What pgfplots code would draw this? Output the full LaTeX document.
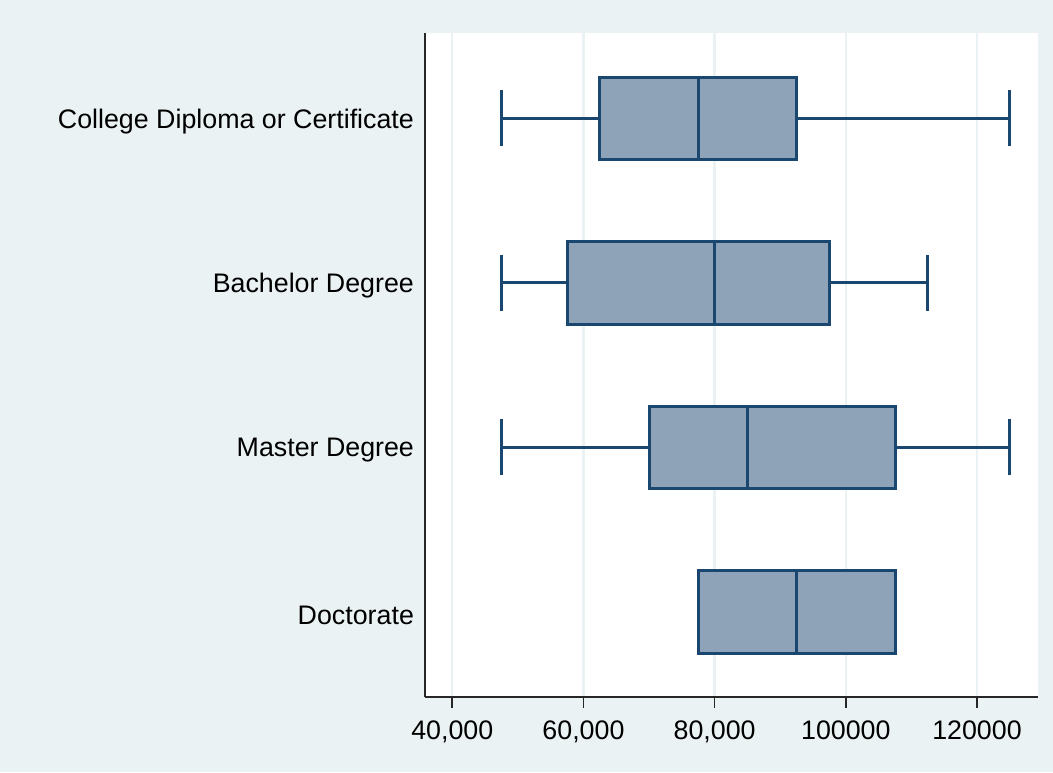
\documentclass[border=0pt]{standalone}
\usepackage{fontspec}
\setmainfont{Liberation Sans}
\usepackage{pgfplots}
\pgfplotsset{compat=1.18}
\usepgfplotslibrary{statistics}
\definecolor{bgc}{RGB}{234,242,243}
\definecolor{boxfill}{RGB}{142,163,184}
\definecolor{boxline}{RGB}{26,71,111}
\definecolor{gridc}{RGB}{234,242,243}
\begin{document}
\begin{tikzpicture}
\fill[bgc] (-212.5pt,-37.5pt) rectangle (314pt,348.5pt);
\begin{axis}[
  at={(0,0)}, anchor=south west,
  scale only axis,
  width=306.5pt, height=332pt,
  xmin=35840, xmax=129300,
  ymin=0.484, ymax=4.518,
  scaled x ticks=false,
  axis background/.style={fill=white},
  axis x line*=bottom, axis y line*=left,
  axis line style={-, line width=0.9pt, black!85},
  xtick={40000,60000,80000,100000,120000},
  xticklabels={40{,}000,60{,}000,80{,}000,100000,120000},
  ytick={1,2,3,4},
  yticklabels={Doctorate,Master Degree,Bachelor Degree,College Diploma or Certificate},
  tick label style={font=\fontsize{13.4}{16}\selectfont},
  xticklabel style={yshift=-3pt},
  yticklabel style={xshift=3.5pt, yshift=-1.5pt},
  tick align=outside,
  major tick length=5.5pt,
  xtick style={line width=0.8pt, black!85},
  ytick style={draw=none},
  xmajorgrids, grid style={gridc, line width=1.2pt},
  boxplot/draw direction=x,
]
\addplot[boxplot prepared={lower whisker=47500, lower quartile=62500, median=77500,
  upper quartile=92500, upper whisker=125000, draw position=4,
  box extend=0.5, whisker extend=0.34},
  draw=boxline, fill=boxfill, line width=1.5pt] coordinates {};
\addplot[boxplot prepared={lower whisker=47500, lower quartile=57500, median=80000,
  upper quartile=97500, upper whisker=112500, draw position=3,
  box extend=0.5, whisker extend=0.34},
  draw=boxline, fill=boxfill, line width=1.5pt] coordinates {};
\addplot[boxplot prepared={lower whisker=47500, lower quartile=70000, median=85000,
  upper quartile=107500, upper whisker=125000, draw position=2,
  box extend=0.5, whisker extend=0.34},
  draw=boxline, fill=boxfill, line width=1.5pt] coordinates {};
\addplot[boxplot prepared={lower whisker=77500, lower quartile=77500, median=92500,
  upper quartile=107500, upper whisker=107500, draw position=1,
  box extend=0.5, whisker extend=0.34},
  draw=boxline, fill=boxfill, line width=1.5pt] coordinates {};
\end{axis}
\end{tikzpicture}
\end{document}
